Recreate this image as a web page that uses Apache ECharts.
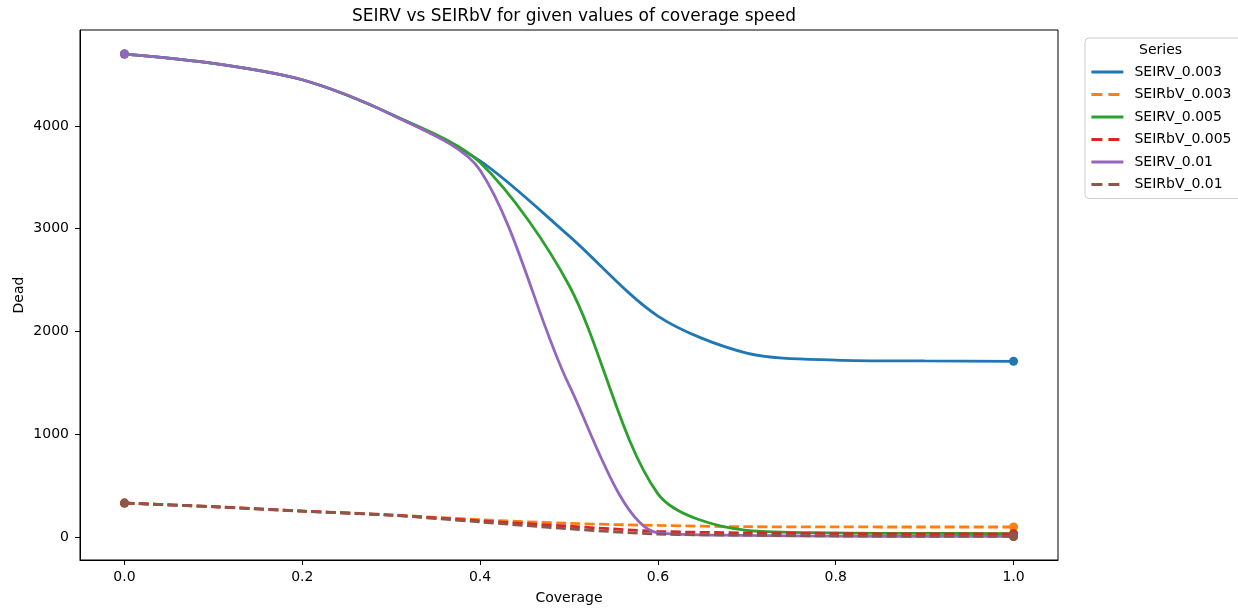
<!DOCTYPE html>
<html>
<head>
<meta charset="utf-8">
<script src="https://cdn.jsdelivr.net/npm/echarts@6/dist/echarts.min.js"></script>
<style>
html,body{margin:0;padding:0;background:#fff;}
#c{width:1238px;height:609px;}
</style>
</head>
<body>
<div id="c"></div>
<script>
const coverage = [0, 0.1, 0.2, 0.3, 0.4, 0.5, 0.6, 0.7, 0.8, 0.9, 1.0];
const seirv_003  = [4700, 4610, 4450, 4115, 3660, 2930, 2150, 1790, 1722, 1713, 1710];
const seirbv_003 = [330, 295, 253, 215, 168, 133, 112, 100, 98, 97, 97];
const seirv_005  = [4700, 4610, 4450, 4115, 3645, 2450, 420, 65, 40, 35, 33];
const seirbv_005 = [330, 295, 252, 213, 157, 105, 55, 40, 33, 30, 30];
const seirv_01   = [4700, 4610, 4450, 4112, 3570, 1480, 40, 15, 8, 5, 5];
const seirbv_01  = [330, 294, 251, 211, 146, 80, 28, 18, 10, 6, 5];
const seriesNames = ['SEIRV_0.003', 'SEIRbV_0.003', 'SEIRV_0.005', 'SEIRbV_0.005', 'SEIRV_0.01', 'SEIRbV_0.01'];
const xTicks = [0, 0.2, 0.4, 0.6, 0.8, 1.0];
const yTicks = [0, 1000, 2000, 3000, 4000];

const colors = ['#1f77b4', '#ff7f0e', '#2ca02c', '#d62728', '#9467bd', '#8c564b'];
const values = [seirv_003, seirbv_003, seirv_005, seirbv_005, seirv_01, seirbv_01];
const dashed = [false, true, false, true, false, true];
const dashPattern = [10, 4.4];
const legendDashPattern = [11, 6];
const font = 'DejaVu Sans';

const series = [];
values.forEach((vals, k) => {
  series.push({
    name: seriesNames[k],
    type: 'line',
    data: vals.map((v, i) => [coverage[i], v]),
    smooth: 0.3,
    symbol: 'none',
    showSymbol: false,
    color: colors[k],
    lineStyle: { color: colors[k], width: 2.8, type: dashed[k] ? dashPattern : 'solid', cap: 'butt' },
    emphasis: { disabled: true },
    z: 2 + 2 * k
  });
  const last = vals.length - 1;
  series.push({
    name: seriesNames[k] + '_ends',
    type: 'scatter',
    data: [[coverage[0], vals[0]], [coverage[last], vals[last]]],
    symbol: 'circle',
    symbolSize: 9,
    itemStyle: { color: colors[k], opacity: 1, borderWidth: 0 },
    emphasis: { disabled: true },
    z: 3 + 2 * k
  });
});

const chart = echarts.init(document.getElementById('c'), null, { renderer: 'canvas' });
chart.setOption({
  animation: false,
  backgroundColor: '#fff',
  textStyle: { fontFamily: font },
  title: {
    text: 'SEIRV vs SEIRbV for given values of coverage speed',
    left: 569, top: 3, textAlign: 'center',
    textStyle: { fontFamily: font, fontSize: 17, fontWeight: 'normal', color: '#000' }
  },
  grid: {
    left: 80, right: 180, top: 30, bottom: 49,
    outerBoundsMode: 'none', containLabel: false,
    show: true, borderColor: '#000', borderWidth: 1, backgroundColor: '#fff'
  },
  xAxis: {
    type: 'value', min: -0.05, max: 1.05,
    name: 'Coverage', nameLocation: 'middle', nameGap: 31, nameMoveOverlap: false,
    nameTextStyle: { fontFamily: font, fontSize: 14, color: '#000' },
    axisLine: { show: true, onZero: false, lineStyle: { color: '#000', width: 1 } },
    axisTick: { show: true, length: 5, lineStyle: { color: '#000' }, customValues: xTicks },
    axisLabel: { fontFamily: font, fontSize: 14, color: '#000', margin: 10, customValues: xTicks,
      formatter: v => v.toFixed(1) },
    splitLine: { show: false }
  },
  yAxis: {
    type: 'value', min: -224, max: 4934,
    name: 'Dead', nameLocation: 'middle', nameGap: 54, nameMoveOverlap: false,
    nameTextStyle: { fontFamily: font, fontSize: 14, color: '#000' },
    axisLine: { show: true, onZero: false, lineStyle: { color: '#000', width: 1 } },
    axisTick: { show: true, length: 5, lineStyle: { color: '#000' }, customValues: yTicks },
    axisLabel: { fontFamily: font, fontSize: 14, color: '#000', margin: 11, customValues: yTicks,
      formatter: v => String(v) },
    splitLine: { show: false }
  },
  legend: {
    data: seriesNames.map((n, k) => ({
      name: n,
      lineStyle: { color: colors[k], width: 2.8, type: dashed[k] ? legendDashPattern : 'solid', opacity: 1, cap: 'butt' }
    })),
    orient: 'vertical',
    left: 1085, top: 38,
    padding: [27, 20, 7, 5],
    itemWidth: 32, itemHeight: 14, itemGap: 8.5,
    borderColor: '#cccccc', borderWidth: 1, borderRadius: 4,
    backgroundColor: 'rgba(255,255,255,0.8)',
    itemStyle: { opacity: 0, borderWidth: 0 },
    textStyle: { fontFamily: font, fontSize: 14, color: '#000', padding: [0, 0, 0, 6] },
    selectedMode: false
  },
  graphic: [{
    type: 'text', left: 1139, top: 43, z: 100,
    style: { text: 'Series', font: '14px "DejaVu Sans"', fill: '#000' }
  }],
  series: series
});
</script>
</body>
</html>
